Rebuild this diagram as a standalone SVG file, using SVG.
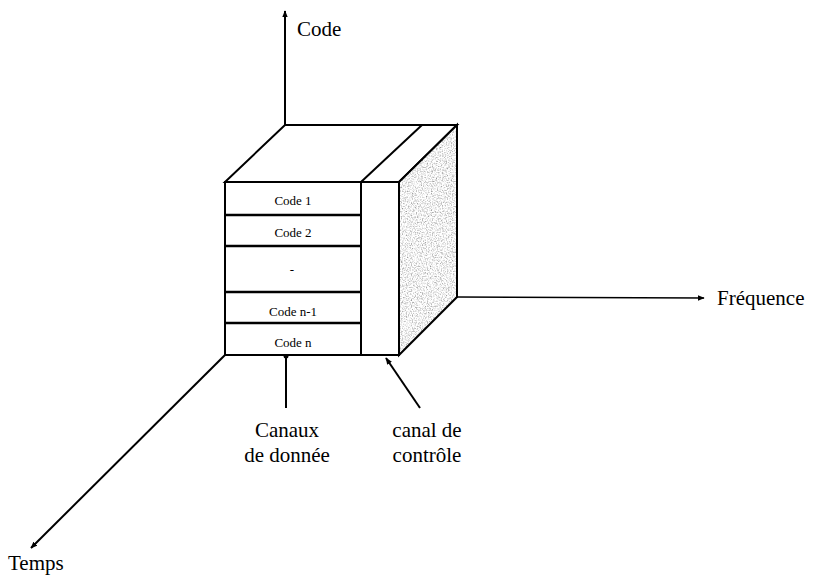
<svg xmlns="http://www.w3.org/2000/svg" width="826" height="577" viewBox="0 0 826 577">
<style>
text{font-family:'Liberation Serif','Times New Roman','DejaVu Serif',serif;fill:#000}
.big{font-size:21px}
.sm{font-size:13px}
.ln{stroke:#000;stroke-width:2;fill:none}
.face{stroke:#000;stroke-width:2;fill:#fff}
</style>
<defs>
<marker id="ah" viewBox="0 0 10 10" refX="9" refY="5" markerWidth="7" markerHeight="7" orient="auto" markerUnits="userSpaceOnUse">
<path d="M0,1 L10,5 L0,9 Z" fill="#000"/>
</marker>
<filter id="grain" x="0" y="0" width="1" height="1">
<feTurbulence type="fractalNoise" baseFrequency="0.8" numOctaves="2" seed="3" result="n"/>
<feColorMatrix in="n" type="matrix" values="1.6 0 0 0 0.08  1.6 0 0 0 0.08  1.6 0 0 0 0.08  0 0 0 0 1" result="g"/>
<feComposite in="g" in2="SourceGraphic" operator="in"/>
</filter>
</defs>
<g id="connectors">
<line class="ln" x1="285" y1="125" x2="285" y2="11" marker-end="url(#ah)"/>
<line class="ln" x1="457" y1="297" x2="704" y2="298" style="stroke-width:1.6" marker-end="url(#ah)"/>
<line class="ln" x1="225" y1="355" x2="31" y2="548" marker-end="url(#ah)"/>
<line class="ln" x1="286" y1="408" x2="286" y2="357"/>
<circle cx="286" cy="356" r="2.5" fill="#000"/>
<line class="ln" x1="420" y1="408" x2="386" y2="358" marker-end="url(#ah)"/>
</g>
<g id="cube">
<polygon points="225,182 399,182 457,125 285,125" class="face"/>
<line class="ln" x1="361" y1="182" x2="422" y2="125"/>
<polygon points="399,182 457,125 457,297 399,355" fill="#b8b8b8" filter="url(#grain)"/>
<polygon points="399,182 457,125 457,297 399,355" fill="none" stroke="#000" stroke-width="2"/>
<rect x="225" y="182" width="174" height="173" class="face"/>
<line class="ln" x1="361" y1="182" x2="361" y2="355"/>
</g>
<g id="code1">
<line class="ln" x1="225" y1="215" x2="361" y2="215" style="stroke-width:2.5"/>
<text class="sm" x="293" y="205" text-anchor="middle">Code 1</text>
</g>
<g id="code2">
<line class="ln" x1="225" y1="246" x2="361" y2="246" style="stroke-width:2.5"/>
<text class="sm" x="293" y="237" text-anchor="middle">Code 2</text>
</g>
<g id="dots">
<line class="ln" x1="225" y1="292" x2="361" y2="292" style="stroke-width:2.5"/>
<text class="sm" x="292" y="274" text-anchor="middle">-</text>
</g>
<g id="coden1">
<line class="ln" x1="225" y1="323" x2="361" y2="323" style="stroke-width:2.5"/>
<text class="sm" x="293" y="316" text-anchor="middle">Code n-1</text>
</g>
<g id="coden">
<text class="sm" x="293" y="347" text-anchor="middle">Code n</text>
</g>
<g id="axis-code"><text class="big" x="297" y="36">Code</text></g>
<g id="axis-freq"><text class="big" x="717" y="305">Fréquence</text></g>
<g id="axis-temps"><text class="big" x="8" y="570">Temps</text></g>
<g id="label-canaux">
<text class="big" x="287" y="437" text-anchor="middle">Canaux</text>
<text class="big" x="287" y="462" text-anchor="middle">de donnée</text>
</g>
<g id="label-controle">
<text class="big" x="427" y="437" text-anchor="middle">canal de</text>
<text class="big" x="427" y="462" text-anchor="middle">contrôle</text>
</g>
</svg>
